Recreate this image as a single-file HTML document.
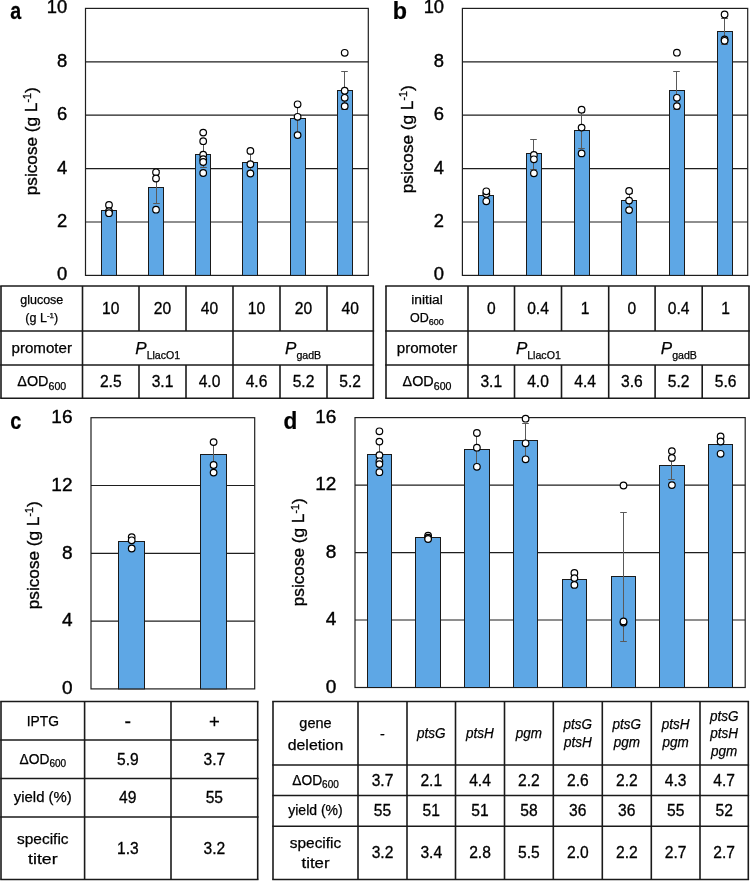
<!DOCTYPE html>
<html><head><meta charset="utf-8"><style>
html,body{margin:0;padding:0;background:#fff;}
svg{display:block;font-family:"Liberation Sans", sans-serif;will-change:transform;}
text{fill:#000;stroke:#000;stroke-width:0.25px;}
.tk{stroke-width:0.4px;}
.nm{stroke-width:0.3px;}
.tt{stroke-width:0.35px;}
</style></head><body>
<svg width="750" height="881" viewBox="0 0 750 881">
<rect width="750" height="881" fill="#fff"/>
<line x1="85.5" y1="222" x2="368.3" y2="222" stroke="#1e1e1e" stroke-width="1.2"/>
<line x1="85.5" y1="168.6" x2="368.3" y2="168.6" stroke="#1e1e1e" stroke-width="1.2"/>
<line x1="85.5" y1="115.2" x2="368.3" y2="115.2" stroke="#1e1e1e" stroke-width="1.2"/>
<line x1="85.5" y1="61.8" x2="368.3" y2="61.8" stroke="#1e1e1e" stroke-width="1.2"/>
<rect x="85.5" y="8.4" width="282.8" height="267.0" fill="none" stroke="#1e1e1e" stroke-width="1.2"/>
<text x="67.3" y="280.46" font-size="18.4" text-anchor="end" class="tk">0</text>
<text x="67.3" y="227.06" font-size="18.4" text-anchor="end" class="tk">2</text>
<text x="67.3" y="173.66" font-size="18.4" text-anchor="end" class="tk">4</text>
<text x="67.3" y="120.26" font-size="18.4" text-anchor="end" class="tk">6</text>
<text x="67.3" y="66.86" font-size="18.4" text-anchor="end" class="tk">8</text>
<text x="67.3" y="13.46" font-size="18.4" text-anchor="end" class="tk">10</text>
<rect x="101.5" y="210.5" width="15.0" height="64.9" fill="#5EA7E5" stroke="#1a1a1a" stroke-width="1"/>
<circle cx="109" cy="204.9" r="3.3" fill="#fff" stroke="#000" stroke-width="1.2"/>
<circle cx="109" cy="211.2" r="3.3" fill="#fff" stroke="#000" stroke-width="1.2"/>
<circle cx="109" cy="213.2" r="3.3" fill="#fff" stroke="#000" stroke-width="1.2"/>
<rect x="148.5" y="187.5" width="15.0" height="87.9" fill="#5EA7E5" stroke="#1a1a1a" stroke-width="1"/>
<line x1="156.5" y1="170.5" x2="156.5" y2="203.5" stroke="#595959" stroke-width="1"/>
<line x1="153.2" y1="170.5" x2="159.8" y2="170.5" stroke="#595959" stroke-width="1"/>
<line x1="153.2" y1="203.5" x2="159.8" y2="203.5" stroke="#595959" stroke-width="1"/>
<circle cx="156" cy="172.3" r="3.3" fill="#fff" stroke="#000" stroke-width="1.2"/>
<circle cx="156" cy="178.5" r="3.3" fill="#fff" stroke="#000" stroke-width="1.2"/>
<circle cx="156" cy="209.7" r="3.3" fill="#fff" stroke="#000" stroke-width="1.2"/>
<rect x="195.5" y="154.5" width="15.0" height="120.9" fill="#5EA7E5" stroke="#1a1a1a" stroke-width="1"/>
<line x1="203.5" y1="140.5" x2="203.5" y2="167.5" stroke="#595959" stroke-width="1"/>
<line x1="200.2" y1="140.5" x2="206.8" y2="140.5" stroke="#595959" stroke-width="1"/>
<line x1="200.2" y1="167.5" x2="206.8" y2="167.5" stroke="#595959" stroke-width="1"/>
<circle cx="203.2" cy="132.6" r="3.3" fill="#fff" stroke="#000" stroke-width="1.2"/>
<circle cx="203.2" cy="141.2" r="3.3" fill="#fff" stroke="#000" stroke-width="1.2"/>
<circle cx="203.2" cy="154.7" r="3.3" fill="#fff" stroke="#000" stroke-width="1.2"/>
<circle cx="203.2" cy="159.2" r="3.3" fill="#fff" stroke="#000" stroke-width="1.2"/>
<circle cx="203.2" cy="162" r="3.3" fill="#fff" stroke="#000" stroke-width="1.2"/>
<circle cx="203.2" cy="173" r="3.3" fill="#fff" stroke="#000" stroke-width="1.2"/>
<rect x="242.5" y="162.5" width="15.0" height="112.9" fill="#5EA7E5" stroke="#1a1a1a" stroke-width="1"/>
<line x1="250.5" y1="152.5" x2="250.5" y2="172.5" stroke="#595959" stroke-width="1"/>
<line x1="247.2" y1="152.5" x2="253.8" y2="152.5" stroke="#595959" stroke-width="1"/>
<line x1="247.2" y1="172.5" x2="253.8" y2="172.5" stroke="#595959" stroke-width="1"/>
<circle cx="250.4" cy="150.9" r="3.3" fill="#fff" stroke="#000" stroke-width="1.2"/>
<circle cx="250.4" cy="164.2" r="3.3" fill="#fff" stroke="#000" stroke-width="1.2"/>
<circle cx="250.4" cy="173.5" r="3.3" fill="#fff" stroke="#000" stroke-width="1.2"/>
<rect x="290.5" y="118.5" width="15.0" height="156.9" fill="#5EA7E5" stroke="#1a1a1a" stroke-width="1"/>
<line x1="297.5" y1="102.5" x2="297.5" y2="135.5" stroke="#595959" stroke-width="1"/>
<line x1="294.2" y1="102.5" x2="300.8" y2="102.5" stroke="#595959" stroke-width="1"/>
<line x1="294.2" y1="135.5" x2="300.8" y2="135.5" stroke="#595959" stroke-width="1"/>
<circle cx="297.6" cy="104.3" r="3.3" fill="#fff" stroke="#000" stroke-width="1.2"/>
<circle cx="297.6" cy="116.8" r="3.3" fill="#fff" stroke="#000" stroke-width="1.2"/>
<circle cx="297.6" cy="135.1" r="3.3" fill="#fff" stroke="#000" stroke-width="1.2"/>
<rect x="337.5" y="90.5" width="15.0" height="184.9" fill="#5EA7E5" stroke="#1a1a1a" stroke-width="1"/>
<line x1="344.5" y1="71.5" x2="344.5" y2="109.5" stroke="#595959" stroke-width="1"/>
<line x1="341.2" y1="71.5" x2="347.8" y2="71.5" stroke="#595959" stroke-width="1"/>
<line x1="341.2" y1="109.5" x2="347.8" y2="109.5" stroke="#595959" stroke-width="1"/>
<circle cx="344.7" cy="52.8" r="3.3" fill="#fff" stroke="#000" stroke-width="1.2"/>
<circle cx="344.7" cy="90.7" r="3.3" fill="#fff" stroke="#000" stroke-width="1.2"/>
<circle cx="344.7" cy="97.8" r="3.3" fill="#fff" stroke="#000" stroke-width="1.2"/>
<circle cx="344.7" cy="106.2" r="3.3" fill="#fff" stroke="#000" stroke-width="1.2"/>
<text transform="translate(10.3,18.6) scale(0.82,1)" font-size="24" font-weight="bold">a</text>
<text class="tt" transform="translate(36.8,141.3) rotate(-90)" font-size="17.2" text-anchor="middle">psicose (g L<tspan font-size="10.66" dy="-5.68">-1</tspan><tspan dy="5.68">)</tspan></text>
<line x1="462.4" y1="222" x2="747.7" y2="222" stroke="#1e1e1e" stroke-width="1.2"/>
<line x1="462.4" y1="168.6" x2="747.7" y2="168.6" stroke="#1e1e1e" stroke-width="1.2"/>
<line x1="462.4" y1="115.2" x2="747.7" y2="115.2" stroke="#1e1e1e" stroke-width="1.2"/>
<line x1="462.4" y1="61.8" x2="747.7" y2="61.8" stroke="#1e1e1e" stroke-width="1.2"/>
<rect x="462.4" y="8.4" width="285.3" height="267.0" fill="none" stroke="#1e1e1e" stroke-width="1.2"/>
<text x="444.1" y="280.46" font-size="18.4" text-anchor="end" class="tk">0</text>
<text x="444.1" y="227.06" font-size="18.4" text-anchor="end" class="tk">2</text>
<text x="444.1" y="173.66" font-size="18.4" text-anchor="end" class="tk">4</text>
<text x="444.1" y="120.26" font-size="18.4" text-anchor="end" class="tk">6</text>
<text x="444.1" y="66.86" font-size="18.4" text-anchor="end" class="tk">8</text>
<text x="444.1" y="13.46" font-size="18.4" text-anchor="end" class="tk">10</text>
<rect x="478.5" y="195.5" width="15.0" height="79.9" fill="#5EA7E5" stroke="#1a1a1a" stroke-width="1"/>
<circle cx="486.3" cy="194" r="3.3" fill="#fff" stroke="#000" stroke-width="1.2"/>
<circle cx="486.3" cy="191.3" r="3.3" fill="#fff" stroke="#000" stroke-width="1.2"/>
<circle cx="486.3" cy="201.3" r="3.3" fill="#fff" stroke="#000" stroke-width="1.2"/>
<rect x="526.5" y="153.5" width="15.0" height="121.9" fill="#5EA7E5" stroke="#1a1a1a" stroke-width="1"/>
<line x1="533.5" y1="139.5" x2="533.5" y2="169.5" stroke="#595959" stroke-width="1"/>
<line x1="530.2" y1="139.5" x2="536.8" y2="139.5" stroke="#595959" stroke-width="1"/>
<line x1="530.2" y1="169.5" x2="536.8" y2="169.5" stroke="#595959" stroke-width="1"/>
<circle cx="533.9" cy="155" r="3.3" fill="#fff" stroke="#000" stroke-width="1.2"/>
<circle cx="533.9" cy="159.3" r="3.3" fill="#fff" stroke="#000" stroke-width="1.2"/>
<circle cx="533.9" cy="173.3" r="3.3" fill="#fff" stroke="#000" stroke-width="1.2"/>
<rect x="574.5" y="130.5" width="15.0" height="144.9" fill="#5EA7E5" stroke="#1a1a1a" stroke-width="1"/>
<line x1="581.5" y1="112.5" x2="581.5" y2="148.5" stroke="#595959" stroke-width="1"/>
<line x1="578.2" y1="112.5" x2="584.8" y2="112.5" stroke="#595959" stroke-width="1"/>
<line x1="578.2" y1="148.5" x2="584.8" y2="148.5" stroke="#595959" stroke-width="1"/>
<circle cx="581.6" cy="109.7" r="3.3" fill="#fff" stroke="#000" stroke-width="1.2"/>
<circle cx="581.6" cy="127.6" r="3.3" fill="#fff" stroke="#000" stroke-width="1.2"/>
<circle cx="581.6" cy="153.4" r="3.3" fill="#fff" stroke="#000" stroke-width="1.2"/>
<rect x="621.5" y="200.5" width="15.0" height="74.9" fill="#5EA7E5" stroke="#1a1a1a" stroke-width="1"/>
<line x1="629.5" y1="193.5" x2="629.5" y2="208.5" stroke="#595959" stroke-width="1"/>
<line x1="626.2" y1="193.5" x2="632.8" y2="193.5" stroke="#595959" stroke-width="1"/>
<line x1="626.2" y1="208.5" x2="632.8" y2="208.5" stroke="#595959" stroke-width="1"/>
<circle cx="629.1" cy="191" r="3.3" fill="#fff" stroke="#000" stroke-width="1.2"/>
<circle cx="629.1" cy="200.6" r="3.3" fill="#fff" stroke="#000" stroke-width="1.2"/>
<circle cx="629.1" cy="210.1" r="3.3" fill="#fff" stroke="#000" stroke-width="1.2"/>
<rect x="669.5" y="90.5" width="15.0" height="184.9" fill="#5EA7E5" stroke="#1a1a1a" stroke-width="1"/>
<line x1="676.5" y1="71.5" x2="676.5" y2="109.5" stroke="#595959" stroke-width="1"/>
<line x1="673.2" y1="71.5" x2="679.8" y2="71.5" stroke="#595959" stroke-width="1"/>
<line x1="673.2" y1="109.5" x2="679.8" y2="109.5" stroke="#595959" stroke-width="1"/>
<circle cx="676.9" cy="52.7" r="3.3" fill="#fff" stroke="#000" stroke-width="1.2"/>
<circle cx="676.9" cy="97.8" r="3.3" fill="#fff" stroke="#000" stroke-width="1.2"/>
<circle cx="676.9" cy="106.1" r="3.3" fill="#fff" stroke="#000" stroke-width="1.2"/>
<rect x="717.5" y="31.5" width="15.0" height="243.9" fill="#5EA7E5" stroke="#1a1a1a" stroke-width="1"/>
<line x1="724.5" y1="18.5" x2="724.5" y2="44.5" stroke="#595959" stroke-width="1"/>
<line x1="721.2" y1="18.5" x2="727.8" y2="18.5" stroke="#595959" stroke-width="1"/>
<line x1="721.2" y1="44.5" x2="727.8" y2="44.5" stroke="#595959" stroke-width="1"/>
<circle cx="724.6" cy="14.5" r="3.3" fill="#fff" stroke="#000" stroke-width="1.2"/>
<circle cx="724.6" cy="39.5" r="3.3" fill="#fff" stroke="#000" stroke-width="1.2"/>
<circle cx="724.6" cy="40.8" r="3.3" fill="#fff" stroke="#000" stroke-width="1.2"/>
<text transform="translate(392.7,18.5) scale(0.97,1)" font-size="24" font-weight="bold">b</text>
<text class="tt" transform="translate(412.9,139.3) rotate(-90)" font-size="17.2" text-anchor="middle">psicose (g L<tspan font-size="10.66" dy="-5.68">-1</tspan><tspan dy="5.68">)</tspan></text>
<line x1="91" y1="621.1" x2="254.7" y2="621.1" stroke="#1e1e1e" stroke-width="1.2"/>
<line x1="91" y1="553.3" x2="254.7" y2="553.3" stroke="#1e1e1e" stroke-width="1.2"/>
<line x1="91" y1="485.5" x2="254.7" y2="485.5" stroke="#1e1e1e" stroke-width="1.2"/>
<rect x="91" y="417.7" width="163.7" height="271.2" fill="none" stroke="#1e1e1e" stroke-width="1.2"/>
<text x="72.5" y="694.12" font-size="19" text-anchor="end" class="tk">0</text>
<text x="72.5" y="626.33" font-size="19" text-anchor="end" class="tk">4</text>
<text x="72.5" y="558.52" font-size="19" text-anchor="end" class="tk">8</text>
<text x="72.5" y="490.73" font-size="19" text-anchor="end" class="tk">12</text>
<text x="72.5" y="422.93" font-size="19" text-anchor="end" class="tk">16</text>
<rect x="118.5" y="541.5" width="26.0" height="147.4" fill="#5EA7E5" stroke="#1a1a1a" stroke-width="1"/>
<circle cx="131.7" cy="537.1" r="3.3" fill="#fff" stroke="#000" stroke-width="1.2"/>
<circle cx="131.7" cy="540.3" r="3.3" fill="#fff" stroke="#000" stroke-width="1.2"/>
<circle cx="131.7" cy="548.5" r="3.3" fill="#fff" stroke="#000" stroke-width="1.2"/>
<rect x="200.5" y="454.5" width="26.0" height="234.4" fill="#5EA7E5" stroke="#1a1a1a" stroke-width="1"/>
<line x1="213.5" y1="442.5" x2="213.5" y2="467.5" stroke="#595959" stroke-width="1"/>
<line x1="210.2" y1="442.5" x2="216.8" y2="442.5" stroke="#595959" stroke-width="1"/>
<line x1="210.2" y1="467.5" x2="216.8" y2="467.5" stroke="#595959" stroke-width="1"/>
<circle cx="213.6" cy="442.1" r="3.3" fill="#fff" stroke="#000" stroke-width="1.2"/>
<circle cx="213.6" cy="465" r="3.3" fill="#fff" stroke="#000" stroke-width="1.2"/>
<circle cx="213.6" cy="472.6" r="3.3" fill="#fff" stroke="#000" stroke-width="1.2"/>
<text transform="translate(10.2,428.5) scale(0.83,1)" font-size="24" font-weight="bold">c</text>
<text class="tt" transform="translate(38.6,555.3) rotate(-90)" font-size="17.2" text-anchor="middle">psicose (g L<tspan font-size="10.66" dy="-5.68">-1</tspan><tspan dy="5.68">)</tspan></text>
<line x1="355" y1="620.02" x2="745.2" y2="620.02" stroke="#1e1e1e" stroke-width="1.2"/>
<line x1="355" y1="552.55" x2="745.2" y2="552.55" stroke="#1e1e1e" stroke-width="1.2"/>
<line x1="355" y1="485.08" x2="745.2" y2="485.08" stroke="#1e1e1e" stroke-width="1.2"/>
<rect x="355" y="417.6" width="390.2" height="269.9" fill="none" stroke="#1e1e1e" stroke-width="1.2"/>
<text x="336.3" y="692.73" font-size="19" text-anchor="end" class="tk">0</text>
<text x="336.3" y="625.25" font-size="19" text-anchor="end" class="tk">4</text>
<text x="336.3" y="557.77" font-size="19" text-anchor="end" class="tk">8</text>
<text x="336.3" y="490.3" font-size="19" text-anchor="end" class="tk">12</text>
<text x="336.3" y="422.83" font-size="19" text-anchor="end" class="tk">16</text>
<rect x="367.5" y="454.5" width="24.0" height="233.0" fill="#5EA7E5" stroke="#1a1a1a" stroke-width="1"/>
<line x1="379.5" y1="443.5" x2="379.5" y2="466.5" stroke="#595959" stroke-width="1"/>
<line x1="376.2" y1="443.5" x2="382.8" y2="443.5" stroke="#595959" stroke-width="1"/>
<line x1="376.2" y1="466.5" x2="382.8" y2="466.5" stroke="#595959" stroke-width="1"/>
<circle cx="379.4" cy="431.3" r="3.3" fill="#fff" stroke="#000" stroke-width="1.2"/>
<circle cx="379.4" cy="441.6" r="3.3" fill="#fff" stroke="#000" stroke-width="1.2"/>
<circle cx="379.4" cy="455.2" r="3.3" fill="#fff" stroke="#000" stroke-width="1.2"/>
<circle cx="379.4" cy="461.3" r="3.3" fill="#fff" stroke="#000" stroke-width="1.2"/>
<circle cx="379.4" cy="464.1" r="3.3" fill="#fff" stroke="#000" stroke-width="1.2"/>
<circle cx="379.4" cy="472.2" r="3.3" fill="#fff" stroke="#000" stroke-width="1.2"/>
<rect x="415.5" y="537.5" width="25.0" height="150.0" fill="#5EA7E5" stroke="#1a1a1a" stroke-width="1"/>
<circle cx="428.1" cy="535.6" r="3.3" fill="#fff" stroke="#000" stroke-width="1.2"/>
<circle cx="428.1" cy="537.6" r="3.3" fill="#fff" stroke="#000" stroke-width="1.2"/>
<circle cx="428.1" cy="539" r="3.3" fill="#fff" stroke="#000" stroke-width="1.2"/>
<rect x="464.5" y="449.5" width="25.0" height="238.0" fill="#5EA7E5" stroke="#1a1a1a" stroke-width="1"/>
<line x1="476.5" y1="433.5" x2="476.5" y2="466.5" stroke="#595959" stroke-width="1"/>
<line x1="473.2" y1="433.5" x2="479.8" y2="433.5" stroke="#595959" stroke-width="1"/>
<line x1="473.2" y1="466.5" x2="479.8" y2="466.5" stroke="#595959" stroke-width="1"/>
<circle cx="476.9" cy="433" r="3.3" fill="#fff" stroke="#000" stroke-width="1.2"/>
<circle cx="476.9" cy="447.7" r="3.3" fill="#fff" stroke="#000" stroke-width="1.2"/>
<circle cx="476.9" cy="466.8" r="3.3" fill="#fff" stroke="#000" stroke-width="1.2"/>
<rect x="513.5" y="440.5" width="24.0" height="247.0" fill="#5EA7E5" stroke="#1a1a1a" stroke-width="1"/>
<line x1="525.5" y1="423.5" x2="525.5" y2="457.5" stroke="#595959" stroke-width="1"/>
<line x1="522.2" y1="423.5" x2="528.8" y2="423.5" stroke="#595959" stroke-width="1"/>
<line x1="522.2" y1="457.5" x2="528.8" y2="457.5" stroke="#595959" stroke-width="1"/>
<circle cx="525.6" cy="418.7" r="3.3" fill="#fff" stroke="#000" stroke-width="1.2"/>
<circle cx="525.6" cy="443.3" r="3.3" fill="#fff" stroke="#000" stroke-width="1.2"/>
<circle cx="525.6" cy="459.3" r="3.3" fill="#fff" stroke="#000" stroke-width="1.2"/>
<rect x="562.5" y="579.5" width="24.0" height="108.0" fill="#5EA7E5" stroke="#1a1a1a" stroke-width="1"/>
<circle cx="574.4" cy="573" r="3.3" fill="#fff" stroke="#000" stroke-width="1.2"/>
<circle cx="574.4" cy="578.1" r="3.3" fill="#fff" stroke="#000" stroke-width="1.2"/>
<circle cx="574.4" cy="584.9" r="3.3" fill="#fff" stroke="#000" stroke-width="1.2"/>
<rect x="611.5" y="576.5" width="24.0" height="111.0" fill="#5EA7E5" stroke="#1a1a1a" stroke-width="1"/>
<line x1="623.5" y1="512.5" x2="623.5" y2="641.5" stroke="#595959" stroke-width="1"/>
<line x1="620.2" y1="512.5" x2="626.8" y2="512.5" stroke="#595959" stroke-width="1"/>
<line x1="620.2" y1="641.5" x2="626.8" y2="641.5" stroke="#595959" stroke-width="1"/>
<circle cx="623.5" cy="485.5" r="3.3" fill="#fff" stroke="#000" stroke-width="1.2"/>
<circle cx="623.5" cy="622.6" r="3.3" fill="#fff" stroke="#000" stroke-width="1.2"/>
<circle cx="623.5" cy="621.4" r="3.3" fill="#fff" stroke="#000" stroke-width="1.2"/>
<rect x="659.5" y="465.5" width="25.0" height="222.0" fill="#5EA7E5" stroke="#1a1a1a" stroke-width="1"/>
<line x1="671.5" y1="450.5" x2="671.5" y2="479.5" stroke="#595959" stroke-width="1"/>
<line x1="668.2" y1="450.5" x2="674.8" y2="450.5" stroke="#595959" stroke-width="1"/>
<line x1="668.2" y1="479.5" x2="674.8" y2="479.5" stroke="#595959" stroke-width="1"/>
<circle cx="671.9" cy="451.1" r="3.3" fill="#fff" stroke="#000" stroke-width="1.2"/>
<circle cx="671.9" cy="457.9" r="3.3" fill="#fff" stroke="#000" stroke-width="1.2"/>
<circle cx="671.9" cy="485.1" r="3.3" fill="#fff" stroke="#000" stroke-width="1.2"/>
<rect x="708.5" y="444.5" width="24.0" height="243.0" fill="#5EA7E5" stroke="#1a1a1a" stroke-width="1"/>
<circle cx="720.6" cy="436.4" r="3.3" fill="#fff" stroke="#000" stroke-width="1.2"/>
<circle cx="720.6" cy="441.5" r="3.3" fill="#fff" stroke="#000" stroke-width="1.2"/>
<circle cx="720.6" cy="453.8" r="3.3" fill="#fff" stroke="#000" stroke-width="1.2"/>
<text transform="translate(283.5,428.5) scale(0.94,1)" font-size="24" font-weight="bold">d</text>
<text class="tt" transform="translate(304.2,552.3) rotate(-90)" font-size="17.2" text-anchor="middle">psicose (g L<tspan font-size="10.66" dy="-5.68">-1</tspan><tspan dy="5.68">)</tspan></text>
<line x1="0.2" y1="286" x2="374.1" y2="286" stroke="#1a1a1a" stroke-width="1.6"/>
<line x1="0.2" y1="331" x2="374.1" y2="331" stroke="#1a1a1a" stroke-width="1.6"/>
<line x1="0.2" y1="365" x2="374.1" y2="365" stroke="#1a1a1a" stroke-width="1.6"/>
<line x1="0.2" y1="398.3" x2="374.1" y2="398.3" stroke="#1a1a1a" stroke-width="1.6"/>
<line x1="1" y1="286" x2="1" y2="331" stroke="#1a1a1a" stroke-width="1.6"/>
<line x1="1" y1="331" x2="1" y2="365" stroke="#1a1a1a" stroke-width="1.6"/>
<line x1="1" y1="365" x2="1" y2="398.3" stroke="#1a1a1a" stroke-width="1.6"/>
<line x1="82.5" y1="286" x2="82.5" y2="331" stroke="#1a1a1a" stroke-width="1.6"/>
<line x1="82.5" y1="331" x2="82.5" y2="365" stroke="#1a1a1a" stroke-width="1.6"/>
<line x1="82.5" y1="365" x2="82.5" y2="398.3" stroke="#1a1a1a" stroke-width="1.6"/>
<line x1="139" y1="286" x2="139" y2="331" stroke="#1a1a1a" stroke-width="1.6"/>
<line x1="139" y1="365" x2="139" y2="398.3" stroke="#1a1a1a" stroke-width="1.6"/>
<line x1="186" y1="286" x2="186" y2="331" stroke="#1a1a1a" stroke-width="1.6"/>
<line x1="186" y1="365" x2="186" y2="398.3" stroke="#1a1a1a" stroke-width="1.6"/>
<line x1="233" y1="286" x2="233" y2="331" stroke="#1a1a1a" stroke-width="1.6"/>
<line x1="233" y1="331" x2="233" y2="365" stroke="#1a1a1a" stroke-width="1.6"/>
<line x1="233" y1="365" x2="233" y2="398.3" stroke="#1a1a1a" stroke-width="1.6"/>
<line x1="280" y1="286" x2="280" y2="331" stroke="#1a1a1a" stroke-width="1.6"/>
<line x1="280" y1="365" x2="280" y2="398.3" stroke="#1a1a1a" stroke-width="1.6"/>
<line x1="327" y1="286" x2="327" y2="331" stroke="#1a1a1a" stroke-width="1.6"/>
<line x1="327" y1="365" x2="327" y2="398.3" stroke="#1a1a1a" stroke-width="1.6"/>
<line x1="373.3" y1="286" x2="373.3" y2="331" stroke="#1a1a1a" stroke-width="1.6"/>
<line x1="373.3" y1="331" x2="373.3" y2="365" stroke="#1a1a1a" stroke-width="1.6"/>
<line x1="373.3" y1="365" x2="373.3" y2="398.3" stroke="#1a1a1a" stroke-width="1.6"/>
<text x="41.75" y="304" font-size="12.5" text-anchor="middle" >glucose</text>
<text x="41.75" y="322" font-size="12.5" text-anchor="middle" >(g L<tspan font-size="8" dy="-4.5">-1</tspan><tspan dy="4.5">)</tspan></text>
<text x="110.75" y="313.95" font-size="15.6" text-anchor="middle" class="nm">10</text>
<text x="162.5" y="313.95" font-size="15.6" text-anchor="middle" class="nm">20</text>
<text x="209.5" y="313.95" font-size="15.6" text-anchor="middle" class="nm">40</text>
<text x="256.5" y="313.95" font-size="15.6" text-anchor="middle" class="nm">10</text>
<text x="303.5" y="313.95" font-size="15.6" text-anchor="middle" class="nm">20</text>
<text x="350.15" y="313.95" font-size="15.6" text-anchor="middle" class="nm">40</text>
<text x="41.75" y="352.6" font-size="14.4" text-anchor="middle" textLength="60.5" lengthAdjust="spacingAndGlyphs">promoter</text>
<text x="157.75" y="354.3" font-size="14.4" text-anchor="middle" ><tspan font-style="italic" font-size="17">P</tspan><tspan font-size="10.6" dy="4.3">LlacO1</tspan></text>
<text x="303.15" y="354.3" font-size="14.4" text-anchor="middle" ><tspan font-style="italic" font-size="17">P</tspan><tspan font-size="10.6" dy="4.3">gadB</tspan></text>
<text x="41.75" y="386.4" font-size="14.4" text-anchor="middle" >ΔOD<tspan font-size="10.6" dy="3.2">600</tspan></text>
<text x="110.75" y="387.1" font-size="15.6" text-anchor="middle" class="nm">2.5</text>
<text x="162.5" y="387.1" font-size="15.6" text-anchor="middle" class="nm">3.1</text>
<text x="209.5" y="387.1" font-size="15.6" text-anchor="middle" class="nm">4.0</text>
<text x="256.5" y="387.1" font-size="15.6" text-anchor="middle" class="nm">4.6</text>
<text x="303.5" y="387.1" font-size="15.6" text-anchor="middle" class="nm">5.2</text>
<text x="350.15" y="387.1" font-size="15.6" text-anchor="middle" class="nm">5.2</text>
<line x1="385.2" y1="286" x2="749.8" y2="286" stroke="#1a1a1a" stroke-width="1.6"/>
<line x1="385.2" y1="331" x2="749.8" y2="331" stroke="#1a1a1a" stroke-width="1.6"/>
<line x1="385.2" y1="365" x2="749.8" y2="365" stroke="#1a1a1a" stroke-width="1.6"/>
<line x1="385.2" y1="398.3" x2="749.8" y2="398.3" stroke="#1a1a1a" stroke-width="1.6"/>
<line x1="386" y1="286" x2="386" y2="331" stroke="#1a1a1a" stroke-width="1.6"/>
<line x1="386" y1="331" x2="386" y2="365" stroke="#1a1a1a" stroke-width="1.6"/>
<line x1="386" y1="365" x2="386" y2="398.3" stroke="#1a1a1a" stroke-width="1.6"/>
<line x1="468" y1="286" x2="468" y2="331" stroke="#1a1a1a" stroke-width="1.6"/>
<line x1="468" y1="331" x2="468" y2="365" stroke="#1a1a1a" stroke-width="1.6"/>
<line x1="468" y1="365" x2="468" y2="398.3" stroke="#1a1a1a" stroke-width="1.6"/>
<line x1="514.5" y1="286" x2="514.5" y2="331" stroke="#1a1a1a" stroke-width="1.6"/>
<line x1="514.5" y1="365" x2="514.5" y2="398.3" stroke="#1a1a1a" stroke-width="1.6"/>
<line x1="561.5" y1="286" x2="561.5" y2="331" stroke="#1a1a1a" stroke-width="1.6"/>
<line x1="561.5" y1="365" x2="561.5" y2="398.3" stroke="#1a1a1a" stroke-width="1.6"/>
<line x1="608.7" y1="286" x2="608.7" y2="331" stroke="#1a1a1a" stroke-width="1.6"/>
<line x1="608.7" y1="331" x2="608.7" y2="365" stroke="#1a1a1a" stroke-width="1.6"/>
<line x1="608.7" y1="365" x2="608.7" y2="398.3" stroke="#1a1a1a" stroke-width="1.6"/>
<line x1="655.1" y1="286" x2="655.1" y2="331" stroke="#1a1a1a" stroke-width="1.6"/>
<line x1="655.1" y1="365" x2="655.1" y2="398.3" stroke="#1a1a1a" stroke-width="1.6"/>
<line x1="702.2" y1="286" x2="702.2" y2="331" stroke="#1a1a1a" stroke-width="1.6"/>
<line x1="702.2" y1="365" x2="702.2" y2="398.3" stroke="#1a1a1a" stroke-width="1.6"/>
<line x1="749" y1="286" x2="749" y2="331" stroke="#1a1a1a" stroke-width="1.6"/>
<line x1="749" y1="331" x2="749" y2="365" stroke="#1a1a1a" stroke-width="1.6"/>
<line x1="749" y1="365" x2="749" y2="398.3" stroke="#1a1a1a" stroke-width="1.6"/>
<text x="427.0" y="304.3" font-size="12.5" text-anchor="middle" textLength="31.5" lengthAdjust="spacingAndGlyphs">initial</text>
<text x="427.0" y="322" font-size="12.5" text-anchor="middle" >OD<tspan font-size="9" dy="2.5">600</tspan></text>
<text x="491.25" y="313.95" font-size="15.6" text-anchor="middle" class="nm">0</text>
<text x="538.0" y="313.95" font-size="15.6" text-anchor="middle" class="nm">0.4</text>
<text x="585.1" y="313.95" font-size="15.6" text-anchor="middle" class="nm">1</text>
<text x="631.9" y="313.95" font-size="15.6" text-anchor="middle" class="nm">0</text>
<text x="678.65" y="313.95" font-size="15.6" text-anchor="middle" class="nm">0.4</text>
<text x="725.6" y="313.95" font-size="15.6" text-anchor="middle" class="nm">1</text>
<text x="427.0" y="352.6" font-size="14.4" text-anchor="middle" textLength="60.5" lengthAdjust="spacingAndGlyphs">promoter</text>
<text x="538.35" y="354.3" font-size="14.4" text-anchor="middle" ><tspan font-style="italic" font-size="17">P</tspan><tspan font-size="10.6" dy="4.3">LlacO1</tspan></text>
<text x="678.85" y="354.3" font-size="14.4" text-anchor="middle" ><tspan font-style="italic" font-size="17">P</tspan><tspan font-size="10.6" dy="4.3">gadB</tspan></text>
<text x="427.0" y="386.4" font-size="14.4" text-anchor="middle" >ΔOD<tspan font-size="10.6" dy="3.2">600</tspan></text>
<text x="491.25" y="387.1" font-size="15.6" text-anchor="middle" class="nm">3.1</text>
<text x="538.0" y="387.1" font-size="15.6" text-anchor="middle" class="nm">4.0</text>
<text x="585.1" y="387.1" font-size="15.6" text-anchor="middle" class="nm">4.4</text>
<text x="631.9" y="387.1" font-size="15.6" text-anchor="middle" class="nm">3.6</text>
<text x="678.65" y="387.1" font-size="15.6" text-anchor="middle" class="nm">5.2</text>
<text x="725.6" y="387.1" font-size="15.6" text-anchor="middle" class="nm">5.6</text>
<line x1="0.2" y1="701.5" x2="258.5" y2="701.5" stroke="#1a1a1a" stroke-width="1.6"/>
<line x1="0.2" y1="740" x2="258.5" y2="740" stroke="#1a1a1a" stroke-width="1.6"/>
<line x1="0.2" y1="778.5" x2="258.5" y2="778.5" stroke="#1a1a1a" stroke-width="1.6"/>
<line x1="0.2" y1="817" x2="258.5" y2="817" stroke="#1a1a1a" stroke-width="1.6"/>
<line x1="0.2" y1="879.5" x2="258.5" y2="879.5" stroke="#1a1a1a" stroke-width="1.6"/>
<line x1="1.0" y1="701.5" x2="1.0" y2="740" stroke="#1a1a1a" stroke-width="1.6"/>
<line x1="1.0" y1="740" x2="1.0" y2="778.5" stroke="#1a1a1a" stroke-width="1.6"/>
<line x1="1.0" y1="778.5" x2="1.0" y2="817" stroke="#1a1a1a" stroke-width="1.6"/>
<line x1="1.0" y1="817" x2="1.0" y2="879.5" stroke="#1a1a1a" stroke-width="1.6"/>
<line x1="84.6" y1="701.5" x2="84.6" y2="740" stroke="#1a1a1a" stroke-width="1.6"/>
<line x1="84.6" y1="740" x2="84.6" y2="778.5" stroke="#1a1a1a" stroke-width="1.6"/>
<line x1="84.6" y1="778.5" x2="84.6" y2="817" stroke="#1a1a1a" stroke-width="1.6"/>
<line x1="84.6" y1="817" x2="84.6" y2="879.5" stroke="#1a1a1a" stroke-width="1.6"/>
<line x1="171" y1="701.5" x2="171" y2="740" stroke="#1a1a1a" stroke-width="1.6"/>
<line x1="171" y1="740" x2="171" y2="778.5" stroke="#1a1a1a" stroke-width="1.6"/>
<line x1="171" y1="778.5" x2="171" y2="817" stroke="#1a1a1a" stroke-width="1.6"/>
<line x1="171" y1="817" x2="171" y2="879.5" stroke="#1a1a1a" stroke-width="1.6"/>
<line x1="257.7" y1="701.5" x2="257.7" y2="740" stroke="#1a1a1a" stroke-width="1.6"/>
<line x1="257.7" y1="740" x2="257.7" y2="778.5" stroke="#1a1a1a" stroke-width="1.6"/>
<line x1="257.7" y1="778.5" x2="257.7" y2="817" stroke="#1a1a1a" stroke-width="1.6"/>
<line x1="257.7" y1="817" x2="257.7" y2="879.5" stroke="#1a1a1a" stroke-width="1.6"/>
<text x="42.8" y="725.8" font-size="13.8" text-anchor="middle" >IPTG</text>
<text x="127.8" y="727.5" font-size="19.5" text-anchor="middle" >-</text>
<text x="214.35" y="727.5" font-size="18.5" text-anchor="middle" >+</text>
<text x="42.8" y="764" font-size="13.8" text-anchor="middle" >ΔOD<tspan font-size="10" dy="3">600</tspan></text>
<text x="127.8" y="764.7" font-size="15.6" text-anchor="middle" class="nm">5.9</text>
<text x="214.35" y="764.7" font-size="15.6" text-anchor="middle" class="nm">3.7</text>
<text x="42.8" y="802" font-size="14.8" text-anchor="middle" textLength="58" lengthAdjust="spacingAndGlyphs">yield (%)</text>
<text x="127.8" y="803.2" font-size="15.6" text-anchor="middle" class="nm">49</text>
<text x="214.35" y="803.2" font-size="15.6" text-anchor="middle" class="nm">55</text>
<text x="42.8" y="843.6" font-size="14.8" text-anchor="middle" textLength="51.6" lengthAdjust="spacingAndGlyphs">specific</text>
<text x="42.8" y="864.4" font-size="14.8" text-anchor="middle" textLength="29.5" lengthAdjust="spacingAndGlyphs">titer</text>
<text x="127.8" y="853.7" font-size="15.6" text-anchor="middle" class="nm">1.3</text>
<text x="214.35" y="853.7" font-size="15.6" text-anchor="middle" class="nm">3.2</text>
<line x1="272.2" y1="701.5" x2="749.1" y2="701.5" stroke="#1a1a1a" stroke-width="1.6"/>
<line x1="272.2" y1="765" x2="749.1" y2="765" stroke="#1a1a1a" stroke-width="1.6"/>
<line x1="272.2" y1="795.5" x2="749.1" y2="795.5" stroke="#1a1a1a" stroke-width="1.6"/>
<line x1="272.2" y1="826.2" x2="749.1" y2="826.2" stroke="#1a1a1a" stroke-width="1.6"/>
<line x1="272.2" y1="879.5" x2="749.1" y2="879.5" stroke="#1a1a1a" stroke-width="1.6"/>
<line x1="273" y1="701.5" x2="273" y2="765" stroke="#1a1a1a" stroke-width="1.6"/>
<line x1="273" y1="765" x2="273" y2="795.5" stroke="#1a1a1a" stroke-width="1.6"/>
<line x1="273" y1="795.5" x2="273" y2="826.2" stroke="#1a1a1a" stroke-width="1.6"/>
<line x1="273" y1="826.2" x2="273" y2="879.5" stroke="#1a1a1a" stroke-width="1.6"/>
<line x1="358" y1="701.5" x2="358" y2="765" stroke="#1a1a1a" stroke-width="1.6"/>
<line x1="358" y1="765" x2="358" y2="795.5" stroke="#1a1a1a" stroke-width="1.6"/>
<line x1="358" y1="795.5" x2="358" y2="826.2" stroke="#1a1a1a" stroke-width="1.6"/>
<line x1="358" y1="826.2" x2="358" y2="879.5" stroke="#1a1a1a" stroke-width="1.6"/>
<line x1="407" y1="701.5" x2="407" y2="765" stroke="#1a1a1a" stroke-width="1.6"/>
<line x1="407" y1="765" x2="407" y2="795.5" stroke="#1a1a1a" stroke-width="1.6"/>
<line x1="407" y1="795.5" x2="407" y2="826.2" stroke="#1a1a1a" stroke-width="1.6"/>
<line x1="407" y1="826.2" x2="407" y2="879.5" stroke="#1a1a1a" stroke-width="1.6"/>
<line x1="455.5" y1="701.5" x2="455.5" y2="765" stroke="#1a1a1a" stroke-width="1.6"/>
<line x1="455.5" y1="765" x2="455.5" y2="795.5" stroke="#1a1a1a" stroke-width="1.6"/>
<line x1="455.5" y1="795.5" x2="455.5" y2="826.2" stroke="#1a1a1a" stroke-width="1.6"/>
<line x1="455.5" y1="826.2" x2="455.5" y2="879.5" stroke="#1a1a1a" stroke-width="1.6"/>
<line x1="504.5" y1="701.5" x2="504.5" y2="765" stroke="#1a1a1a" stroke-width="1.6"/>
<line x1="504.5" y1="765" x2="504.5" y2="795.5" stroke="#1a1a1a" stroke-width="1.6"/>
<line x1="504.5" y1="795.5" x2="504.5" y2="826.2" stroke="#1a1a1a" stroke-width="1.6"/>
<line x1="504.5" y1="826.2" x2="504.5" y2="879.5" stroke="#1a1a1a" stroke-width="1.6"/>
<line x1="553.3" y1="701.5" x2="553.3" y2="765" stroke="#1a1a1a" stroke-width="1.6"/>
<line x1="553.3" y1="765" x2="553.3" y2="795.5" stroke="#1a1a1a" stroke-width="1.6"/>
<line x1="553.3" y1="795.5" x2="553.3" y2="826.2" stroke="#1a1a1a" stroke-width="1.6"/>
<line x1="553.3" y1="826.2" x2="553.3" y2="879.5" stroke="#1a1a1a" stroke-width="1.6"/>
<line x1="602.3" y1="701.5" x2="602.3" y2="765" stroke="#1a1a1a" stroke-width="1.6"/>
<line x1="602.3" y1="765" x2="602.3" y2="795.5" stroke="#1a1a1a" stroke-width="1.6"/>
<line x1="602.3" y1="795.5" x2="602.3" y2="826.2" stroke="#1a1a1a" stroke-width="1.6"/>
<line x1="602.3" y1="826.2" x2="602.3" y2="879.5" stroke="#1a1a1a" stroke-width="1.6"/>
<line x1="651.3" y1="701.5" x2="651.3" y2="765" stroke="#1a1a1a" stroke-width="1.6"/>
<line x1="651.3" y1="765" x2="651.3" y2="795.5" stroke="#1a1a1a" stroke-width="1.6"/>
<line x1="651.3" y1="795.5" x2="651.3" y2="826.2" stroke="#1a1a1a" stroke-width="1.6"/>
<line x1="651.3" y1="826.2" x2="651.3" y2="879.5" stroke="#1a1a1a" stroke-width="1.6"/>
<line x1="700" y1="701.5" x2="700" y2="765" stroke="#1a1a1a" stroke-width="1.6"/>
<line x1="700" y1="765" x2="700" y2="795.5" stroke="#1a1a1a" stroke-width="1.6"/>
<line x1="700" y1="795.5" x2="700" y2="826.2" stroke="#1a1a1a" stroke-width="1.6"/>
<line x1="700" y1="826.2" x2="700" y2="879.5" stroke="#1a1a1a" stroke-width="1.6"/>
<line x1="748.3" y1="701.5" x2="748.3" y2="765" stroke="#1a1a1a" stroke-width="1.6"/>
<line x1="748.3" y1="765" x2="748.3" y2="795.5" stroke="#1a1a1a" stroke-width="1.6"/>
<line x1="748.3" y1="795.5" x2="748.3" y2="826.2" stroke="#1a1a1a" stroke-width="1.6"/>
<line x1="748.3" y1="826.2" x2="748.3" y2="879.5" stroke="#1a1a1a" stroke-width="1.6"/>
<text x="315.5" y="728.4" font-size="14.5" text-anchor="middle" >gene</text>
<text x="315.5" y="749.5" font-size="14.5" text-anchor="middle" textLength="55.5" lengthAdjust="spacingAndGlyphs">deletion</text>
<text x="382.5" y="739.0" font-size="14.4" text-anchor="middle" >-</text>
<text x="431.25" y="738.0" font-size="14.5" text-anchor="middle" font-style="italic" textLength="28.5" lengthAdjust="spacingAndGlyphs">ptsG</text>
<text x="480.0" y="738.0" font-size="14.5" text-anchor="middle" font-style="italic" textLength="27.8" lengthAdjust="spacingAndGlyphs">ptsH</text>
<text x="528.9" y="738.0" font-size="14.5" text-anchor="middle" font-style="italic" textLength="26.3" lengthAdjust="spacingAndGlyphs">pgm</text>
<text x="577.8" y="729.25" font-size="14.5" text-anchor="middle" font-style="italic" textLength="28.5" lengthAdjust="spacingAndGlyphs">ptsG</text>
<text x="577.8" y="746.75" font-size="14.5" text-anchor="middle" font-style="italic" textLength="27.8" lengthAdjust="spacingAndGlyphs">ptsH</text>
<text x="626.8" y="729.25" font-size="14.5" text-anchor="middle" font-style="italic" textLength="28.5" lengthAdjust="spacingAndGlyphs">ptsG</text>
<text x="626.8" y="746.75" font-size="14.5" text-anchor="middle" font-style="italic" textLength="26.3" lengthAdjust="spacingAndGlyphs">pgm</text>
<text x="675.65" y="729.25" font-size="14.5" text-anchor="middle" font-style="italic" textLength="27.8" lengthAdjust="spacingAndGlyphs">ptsH</text>
<text x="675.65" y="746.75" font-size="14.5" text-anchor="middle" font-style="italic" textLength="26.3" lengthAdjust="spacingAndGlyphs">pgm</text>
<text x="724.15" y="720.5" font-size="14.5" text-anchor="middle" font-style="italic" textLength="28.5" lengthAdjust="spacingAndGlyphs">ptsG</text>
<text x="724.15" y="738.0" font-size="14.5" text-anchor="middle" font-style="italic" textLength="27.8" lengthAdjust="spacingAndGlyphs">ptsH</text>
<text x="724.15" y="755.5" font-size="14.5" text-anchor="middle" font-style="italic" textLength="26.3" lengthAdjust="spacingAndGlyphs">pgm</text>
<text x="315.5" y="785.3" font-size="13.8" text-anchor="middle" >ΔOD<tspan font-size="10" dy="3">600</tspan></text>
<text x="382.5" y="785.7" font-size="15.6" text-anchor="middle" class="nm">3.7</text>
<text x="431.25" y="785.7" font-size="15.6" text-anchor="middle" class="nm">2.1</text>
<text x="480.0" y="785.7" font-size="15.6" text-anchor="middle" class="nm">4.4</text>
<text x="528.9" y="785.7" font-size="15.6" text-anchor="middle" class="nm">2.2</text>
<text x="577.8" y="785.7" font-size="15.6" text-anchor="middle" class="nm">2.6</text>
<text x="626.8" y="785.7" font-size="15.6" text-anchor="middle" class="nm">2.2</text>
<text x="675.65" y="785.7" font-size="15.6" text-anchor="middle" class="nm">4.3</text>
<text x="724.15" y="785.7" font-size="15.6" text-anchor="middle" class="nm">4.7</text>
<text x="315.5" y="815.3" font-size="14.2" text-anchor="middle" textLength="54.5" lengthAdjust="spacingAndGlyphs">yield (%)</text>
<text x="382.5" y="816.3" font-size="15.6" text-anchor="middle" class="nm">55</text>
<text x="431.25" y="816.3" font-size="15.6" text-anchor="middle" class="nm">51</text>
<text x="480.0" y="816.3" font-size="15.6" text-anchor="middle" class="nm">51</text>
<text x="528.9" y="816.3" font-size="15.6" text-anchor="middle" class="nm">58</text>
<text x="577.8" y="816.3" font-size="15.6" text-anchor="middle" class="nm">36</text>
<text x="626.8" y="816.3" font-size="15.6" text-anchor="middle" class="nm">36</text>
<text x="675.65" y="816.3" font-size="15.6" text-anchor="middle" class="nm">55</text>
<text x="724.15" y="816.3" font-size="15.6" text-anchor="middle" class="nm">52</text>
<text x="315.5" y="848" font-size="14.4" text-anchor="middle" textLength="51.5" lengthAdjust="spacingAndGlyphs">specific</text>
<text x="315.5" y="868.2" font-size="14.4" text-anchor="middle" textLength="28" lengthAdjust="spacingAndGlyphs">titer</text>
<text x="382.5" y="858.3" font-size="15.6" text-anchor="middle" class="nm">3.2</text>
<text x="431.25" y="858.3" font-size="15.6" text-anchor="middle" class="nm">3.4</text>
<text x="480.0" y="858.3" font-size="15.6" text-anchor="middle" class="nm">2.8</text>
<text x="528.9" y="858.3" font-size="15.6" text-anchor="middle" class="nm">5.5</text>
<text x="577.8" y="858.3" font-size="15.6" text-anchor="middle" class="nm">2.0</text>
<text x="626.8" y="858.3" font-size="15.6" text-anchor="middle" class="nm">2.2</text>
<text x="675.65" y="858.3" font-size="15.6" text-anchor="middle" class="nm">2.7</text>
<text x="724.15" y="858.3" font-size="15.6" text-anchor="middle" class="nm">2.7</text>
</svg></body></html>
